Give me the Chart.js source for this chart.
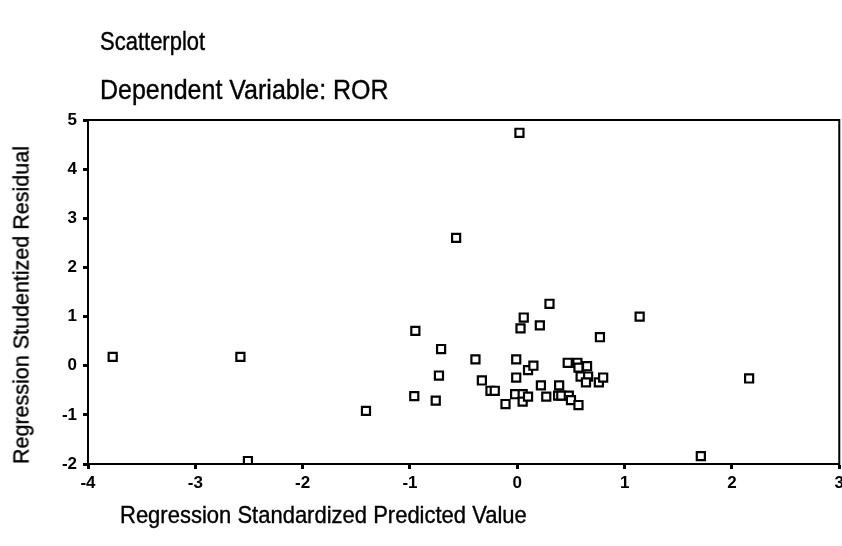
<!DOCTYPE html>
<html>
<head>
<meta charset="utf-8">
<script src="https://cdn.jsdelivr.net/npm/chart.js@4.4.0/dist/chart.umd.min.js"></script>
<style>
    body { margin: 0; background: #fff; }
    #wrap { position: relative; width: 842px; height: 546px; overflow: hidden; font-family: "Liberation Sans", Arial, sans-serif; color: #000; }
    #grafico { position: absolute; left: 0; top: 0; }
    .txt { position: absolute; white-space: nowrap; transform-origin: left top; -webkit-text-stroke: 0.35px #000; }
</style>
</head>
<body>
<div id="wrap">
    <!-- canvas um pouco mais largo: o "3" fica cortado na borda, como no original -->
    <canvas id="grafico" width="848" height="546"></canvas>
    <div class="txt" style="left:100px; top:26px; font-size:22px; transform: scaleY(1.2);">Scatterplot</div>
    <div class="txt" style="left:100px; top:73px; font-size:25px; transform: scaleY(1.12);">Dependent Variable: ROR</div>
    <div class="txt" style="left:120px; top:501px; font-size:22px; transform: scaleY(1.08);">Regression Standardized Predicted Value</div>
    <div class="txt" style="left:22px; top:305px; font-size:21.5px; transform: translate(-50%, -50%) rotate(-90deg); transform-origin: center;">Regression Studentized Residual</div>
</div>

<script>

/// DADOS DO GRÁFICO

var valor_previsto = [
    -3.77, -2.58, -2.51, -1.41, -0.95, -0.96, -0.76, -0.73, -0.71, -0.57,
    -0.39, -0.33, -0.25, -0.21, -0.11, -0.02, -0.01, -0.01, 0.02, 0.03,
    0.05, 0.05, 0.06, 0.10, 0.10, 0.15, 0.21, 0.22, 0.27, 0.30,
    0.39, 0.38, 0.41, 0.48, 0.50, 0.57, 0.47, 0.56, 0.57, 0.65,
    0.59, 0.66, 0.64, 0.76, 0.80, 0.77, 1.14, 1.71, 2.16
];

var residuo = [
    0.18, 0.18, -1.94, -0.92, 0.71, -0.62, -0.71, -0.20, 0.34, 2.60,
    0.13, -0.30, -0.51, -0.51, -0.78, -0.58, -0.24, 0.13, 4.74, 0.76,
    -0.58, -0.73, 0.98, -0.63, -0.09, 0.00, 0.82, -0.40, -0.63, 1.26,
    -0.40, -0.61, -0.61, -0.61, -0.70, -0.80, 0.06, 0.06, -0.04, -0.01,
    -0.22, -0.22, -0.34, -0.34, -0.24, 0.58, 1.00, -1.84, -0.26
];

var ticks_x = [-4, -3, -2, -1, 0, 1, 2, 3];
var ticks_y = [-2, -1, 0, 1, 2, 3, 4, 5];


var pontos = [];
for (var i = 0; i < valor_previsto.length; i++) {
    pontos.push({ x: valor_previsto[i], y: residuo[i] });
}

// moldura em volta da área do gráfico
const moldura = {
    id: 'moldura',
    afterDraw: function (chart) {
        const a = chart.chartArea;
        const c = chart.ctx;
        c.save();
        c.strokeStyle = '#000';
        c.lineWidth = 2;
        c.strokeRect(a.left, a.top, a.right - a.left, a.bottom - a.top);
        c.restore();
    }
};

const ctx = document.getElementById('grafico');

new Chart(ctx, {
    type: 'scatter',
    data: {
        datasets: [{
            label: '',
            data: pontos,
            pointStyle: 'rect',
            pointRadius: 5.7,
            pointHoverRadius: 5.7,
            borderColor: '#000',
            backgroundColor: '#fff',
            borderWidth: 2.2
        }]
    },
    options: {
        responsive: false,
        animation: false,
        layout: {
            padding: { top: 120, right: 2, left: 0, bottom: 0 }
        },
        scales: {
            x: {
                type: 'linear',
                min: ticks_x[0],
                max: ticks_x[ticks_x.length - 1],
                afterBuildTicks: function (scale) {
                    scale.ticks = ticks_x.map(function (v) { return { value: v }; });
                },
                afterFit: function (scale) {
                    scale.height = 82;
                },
                grid: { drawOnChartArea: false, color: '#000', tickLength: 5, tickWidth: 3 },
                border: { display: true, color: '#000', width: 2 },
                ticks: { color: '#000', padding: 4, maxRotation: 0, font: { family: 'Liberation Sans', size: 17, weight: 'bold' } }
            },
            y: {
                type: 'linear',
                min: ticks_y[0],
                max: ticks_y[ticks_y.length - 1],
                afterBuildTicks: function (scale) {
                    scale.ticks = ticks_y.map(function (v) { return { value: v }; });
                },
                afterFit: function (scale) {
                    scale.width = 88;
                },
                grid: { drawOnChartArea: false, color: '#000', tickLength: 5, tickWidth: 3 },
                border: { display: true, color: '#000', width: 2 },
                ticks: { color: '#000', padding: 6, font: { family: 'Liberation Sans', size: 17, weight: 'bold' } }
            }
        },
        plugins: {
            legend: { display: false },
            tooltip: { enabled: false }
        }
    },
    plugins: [moldura]
});

</script>
</body>
</html>
